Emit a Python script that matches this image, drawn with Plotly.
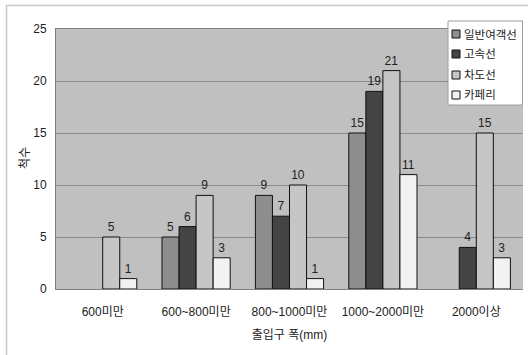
import plotly.graph_objects as go

categories = ["600미만", "600~800미만", "800~1000미만", "1000~2000미만", "2000이상"]
series_names = ["일반여객선", "고속선", "차도선", "카페리"]
passenger = [None, 5, 9, 15, None]
highspeed = [None, 6, 7, 19, 4]
roadway = [5, 9, 10, 21, 15]
carferry = [1, 3, 1, 11, 3]
y_ticks = [0, 5, 10, 15, 20, 25]

series_values = [passenger, highspeed, roadway, carferry]
colors = ["#8e8e8e", "#444444", "#c6c6c6", "#f2f2f2"]

W, H = 528, 355
L, R, T, B = 56, 5, 29, 66
PW, PH = W - L - R, H - T - B


def px(x):
    return (x - L) / PW


def py(y):
    return 1 - (y - T) / PH


FONT = "Liberation Sans, Noto Sans CJK KR, sans-serif"

fig = go.Figure()
for name, vals, col in zip(series_names, series_values, colors):
    fig.add_trace(go.Bar(
        x=categories, y=vals, name=name,
        marker=dict(color=col, line=dict(color="#111111", width=1)),
        text=[("" if v is None else str(v)) for v in vals],
        textposition="outside", cliponaxis=False,
        textfont=dict(size=12, color="#222222", family=FONT),
        showlegend=False,
    ))

shapes = []
annotations = []
# outer chart frame
shapes.append(dict(type="rect", xref="paper", yref="paper",
                   x0=px(6.5), x1=px(540), y0=py(5.5), y1=py(370),
                   line=dict(color="#c8c8c8", width=1.5), layer="below"))
# custom legend
shapes.append(dict(type="rect", xref="paper", yref="paper",
                   x0=px(448), x1=px(522.5), y0=py(21), y1=py(105),
                   fillcolor="white", line=dict(color="#9a9a9a", width=1), layer="above"))
row_y = [34, 54, 75, 95]
for name, col, yy in zip(series_names, colors, row_y):
    shapes.append(dict(type="rect", xref="paper", yref="paper",
                       x0=px(452), x1=px(460), y0=py(yy - 4), y1=py(yy + 4),
                       fillcolor=col, line=dict(color="#111111", width=1), layer="above"))
    annotations.append(dict(text=name, xref="paper", yref="paper",
                            x=px(462), y=py(yy), xanchor="left", yanchor="middle",
                            showarrow=False,
                            font=dict(size=11.5, color="#222222", family=FONT)))
# y-axis title
annotations.append(dict(text="척수", xref="paper", yref="paper",
                        x=px(25), y=py(158), xanchor="center", yanchor="middle",
                        textangle=-90, showarrow=False,
                        font=dict(size=12, color="#222222", family=FONT)))

fig.update_layout(
    width=W, height=H,
    margin=dict(l=L, r=R, t=T, b=B),
    paper_bgcolor="white", plot_bgcolor="#c0c0c0",
    barmode="group", bargap=0.27, bargroupgap=0,
    font=dict(family=FONT, size=12, color="#222222"),
    shapes=shapes, annotations=annotations,
    showlegend=False,
)
fig.update_xaxes(
    automargin=False,
    showgrid=False, showline=True, linecolor="#808080", linewidth=1, mirror=True,
    ticks="", ticklabelstandoff=12, tickfont=dict(size=12, color="#222222"),
    title=dict(text="출입구 폭(mm)", font=dict(size=12, color="#222222"), standoff=12),
)
fig.update_yaxes(
    automargin=False,
    range=[0, 25], tickvals=y_ticks, ticktext=[str(v) for v in y_ticks],
    showgrid=True, gridcolor="#8a8a8a", gridwidth=1,
    showline=True, linecolor="#808080", linewidth=1,
    zeroline=False, ticks="", ticklabelstandoff=6,
    tickfont=dict(size=12, color="#222222"),
)

fig.write_html("out.html", config={"displayModeBar": False},
               post_script="document.body.style.margin='0';")
